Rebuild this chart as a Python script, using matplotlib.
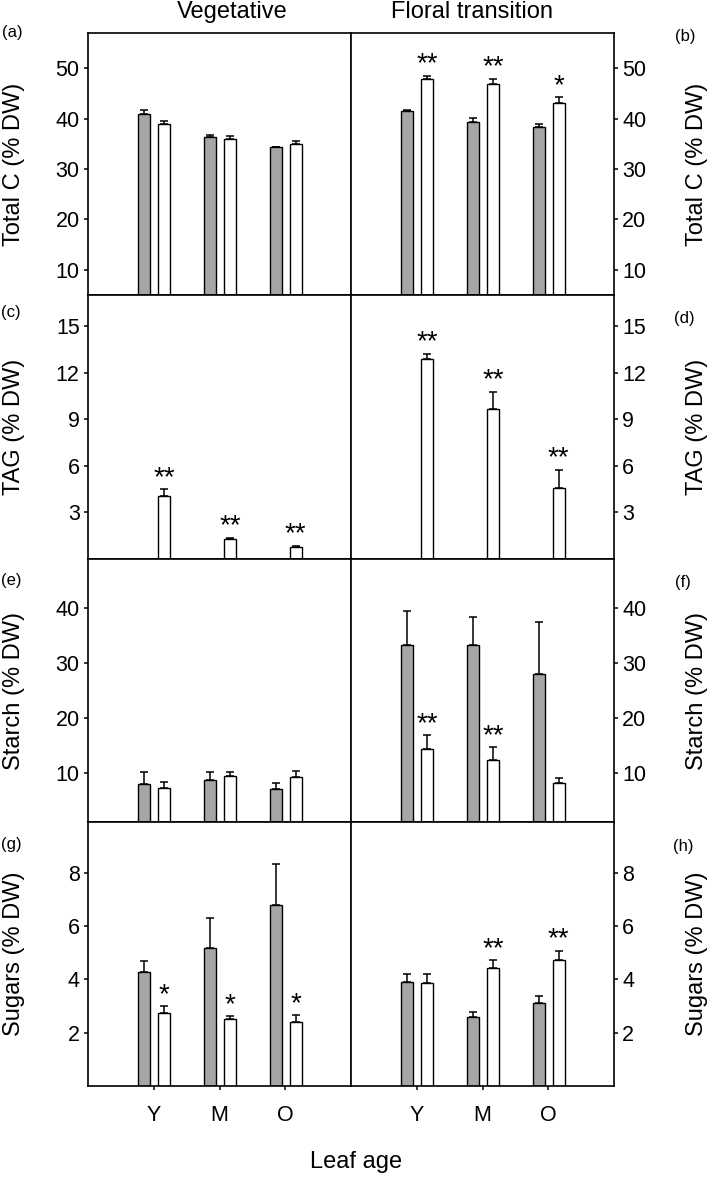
import matplotlib
matplotlib.use('Agg')
import matplotlib.pyplot as plt
import numpy as np

plt.rcParams['font.family'] = ['Liberation Sans', 'DejaVu Sans']

# ---------------- data ----------------
ages = ['Y', 'M', 'O']
stages = ['Vegetative', 'Floral transition']
ylabels = ['Total C (% DW)', 'TAG (% DW)', 'Starch (% DW)', 'Sugars (% DW)']
panel_letters = [['(a)', '(b)'], ['(c)', '(d)'], ['(e)', '(f)'], ['(g)', '(h)']]
yticks_rows = [[10, 20, 30, 40, 50], [3, 6, 9, 12, 15], [10, 20, 30, 40], [2, 4, 6, 8]]
ylims_rows = [(5, 57), (0, 17), (1, 49), (0, 9.9)]

# Total C (% DW)
totc_veg_grey = [40.9, 36.4, 34.3]
totc_veg_grey_err = [0.8, 0.4, 0.15]
totc_veg_white = [38.9, 35.9, 35.0]
totc_veg_white_err = [0.7, 0.6, 0.6]
totc_veg_sig = ['', '', '']
totc_flo_grey = [41.6, 39.4, 38.4]
totc_flo_grey_err = [0.1, 0.7, 0.5]
totc_flo_white = [47.9, 46.8, 43.1]
totc_flo_white_err = [0.6, 1.1, 1.2]
totc_flo_sig = ['**', '**', '*']

# TAG (% DW)
tag_veg_grey = [0.0, 0.0, 0.0]
tag_veg_grey_err = [0.0, 0.0, 0.0]
tag_veg_white = [4.05, 1.29, 0.80]
tag_veg_white_err = [0.43, 0.08, 0.06]
tag_veg_sig = ['**', '**', '**']
tag_flo_grey = [0.0, 0.0, 0.0]
tag_flo_grey_err = [0.0, 0.0, 0.0]
tag_flo_white = [12.88, 9.68, 4.59]
tag_flo_white_err = [0.34, 1.1, 1.17]
tag_flo_sig = ['**', '**', '**']

# Starch (% DW)
starch_veg_grey = [7.95, 8.7, 6.97]
starch_veg_grey_err = [2.2, 1.5, 1.2]
starch_veg_white = [7.15, 9.45, 9.3]
starch_veg_white_err = [1.15, 0.65, 1.0]
starch_veg_sig = ['', '', '']
starch_flo_grey = [33.3, 33.3, 28.0]
starch_flo_grey_err = [6.3, 5.2, 9.5]
starch_flo_white = [14.3, 12.4, 8.1]
starch_flo_white_err = [2.6, 2.3, 0.85]
starch_flo_sig = ['**', '**', '']

# Sugars (% DW)
sug_veg_grey = [4.27, 5.17, 6.79]
sug_veg_grey_err = [0.4, 1.12, 1.53]
sug_veg_white = [2.72, 2.50, 2.40]
sug_veg_white_err = [0.27, 0.12, 0.26]
sug_veg_sig = ['*', '*', '*']
sug_flo_grey = [3.89, 2.57, 3.13]
sug_flo_grey_err = [0.31, 0.2, 0.26]
sug_flo_white = [3.85, 4.41, 4.71]
sug_flo_white_err = [0.35, 0.3, 0.36]
sug_flo_sig = ['', '**', '**']

rows = [
    [(totc_veg_grey, totc_veg_grey_err, totc_veg_white, totc_veg_white_err, totc_veg_sig),
     (totc_flo_grey, totc_flo_grey_err, totc_flo_white, totc_flo_white_err, totc_flo_sig)],
    [(tag_veg_grey, tag_veg_grey_err, tag_veg_white, tag_veg_white_err, tag_veg_sig),
     (tag_flo_grey, tag_flo_grey_err, tag_flo_white, tag_flo_white_err, tag_flo_sig)],
    [(starch_veg_grey, starch_veg_grey_err, starch_veg_white, starch_veg_white_err, starch_veg_sig),
     (starch_flo_grey, starch_flo_grey_err, starch_flo_white, starch_flo_white_err, starch_flo_sig)],
    [(sug_veg_grey, sug_veg_grey_err, sug_veg_white, sug_veg_white_err, sug_veg_sig),
     (sug_flo_grey, sug_flo_grey_err, sug_flo_white, sug_flo_white_err, sug_flo_sig)],
]

# ---------------- layout ----------------
W, H = 709, 1177
fig = plt.figure(figsize=(W / 100, H / 100), dpi=100)

col_x = [88, 351]
col_w = 263
row_top = [33, 295, 559, 822]
row_bot = [295, 559, 822, 1086]

GREY = '#a6a6a6'
xpos = np.arange(1, len(ages) + 1)
bw = 0.182
off_g = -0.147
off_w = 0.158

for r in range(4):
    for c in range(2):
        g, ge, w, we, sig = rows[r][c]
        ax = fig.add_axes([col_x[c] / W, 1 - row_bot[r] / H, col_w / W,
                           (row_bot[r] - row_top[r]) / H])
        for s in ax.spines.values():
            s.set_linewidth(1.2)
        ax.bar(xpos + off_g, g, width=bw, color=GREY, edgecolor='black',
               linewidth=1.0, zorder=2)
        ax.bar(xpos + off_w, w, width=bw, color='white', edgecolor='black',
               linewidth=1.0, zorder=2)
        gm = np.array(g)
        wm = np.array(w)
        mask_g = gm > 0
        ax.errorbar((xpos + off_g)[mask_g], gm[mask_g],
                    yerr=[np.zeros(mask_g.sum()), np.array(ge)[mask_g]],
                    fmt='none', ecolor='black', elinewidth=1.1, capsize=3.2,
                    capthick=1.1, zorder=1)
        ax.errorbar(xpos + off_w, wm, yerr=[np.zeros(len(wm)), we],
                    fmt='none', ecolor='black', elinewidth=1.1, capsize=3.2,
                    capthick=1.1, zorder=1)
        for i, s in enumerate(sig):
            if s:
                ax.annotate(s, xy=(xpos[i] + off_w, wm[i] + we[i]),
                            xytext=(0, 3.0), textcoords='offset points',
                            ha='center', va='baseline', fontsize=20,
                            annotation_clip=False)
        ax.set_xlim(0, 4)
        ax.set_ylim(*ylims_rows[r])
        ax.set_yticks(yticks_rows[r])
        ax.tick_params(axis='y', direction='out', length=3, width=1.1,
                       labelsize=15.5, pad=3)
        if c == 1:
            ax.yaxis.tick_right()
        if r == 3:
            ax.set_xticks(xpos)
            ax.set_xticklabels(ages)
            ax.tick_params(axis='x', direction='out', length=3, width=1.1,
                           labelsize=15.5, pad=11)
        else:
            ax.set_xticks([])

        # y labels
        yc = 1 - (row_top[r] + row_bot[r]) / 2 / H
        xl = 14 if c == 0 else 697
        fig.text(xl / W, yc, ylabels[r], rotation=90, ha='center', va='center',
                 fontsize=17)

# panel letters
letter_pos = [[(12, 33), (685, 37)], [(11, 313), (684, 318)],
              [(11, 581), (683, 582)], [(11, 845), (683, 847)]]
for r in range(4):
    for c in range(2):
        x, y = letter_pos[r][c]
        fig.text(x / W, 1 - y / H, panel_letters[r][c], ha='center', va='center',
                 fontsize=12)

# column titles
fig.text(232 / W, 1 - 12 / H, stages[0], ha='center', va='center', fontsize=17)
fig.text(472 / W, 1 - 12 / H, stages[1], ha='center', va='center', fontsize=17)

# x label
fig.text(356 / W, 1 - 1162 / H, 'Leaf age', ha='center', va='center', fontsize=17)

fig.savefig('out.png', dpi=100)
